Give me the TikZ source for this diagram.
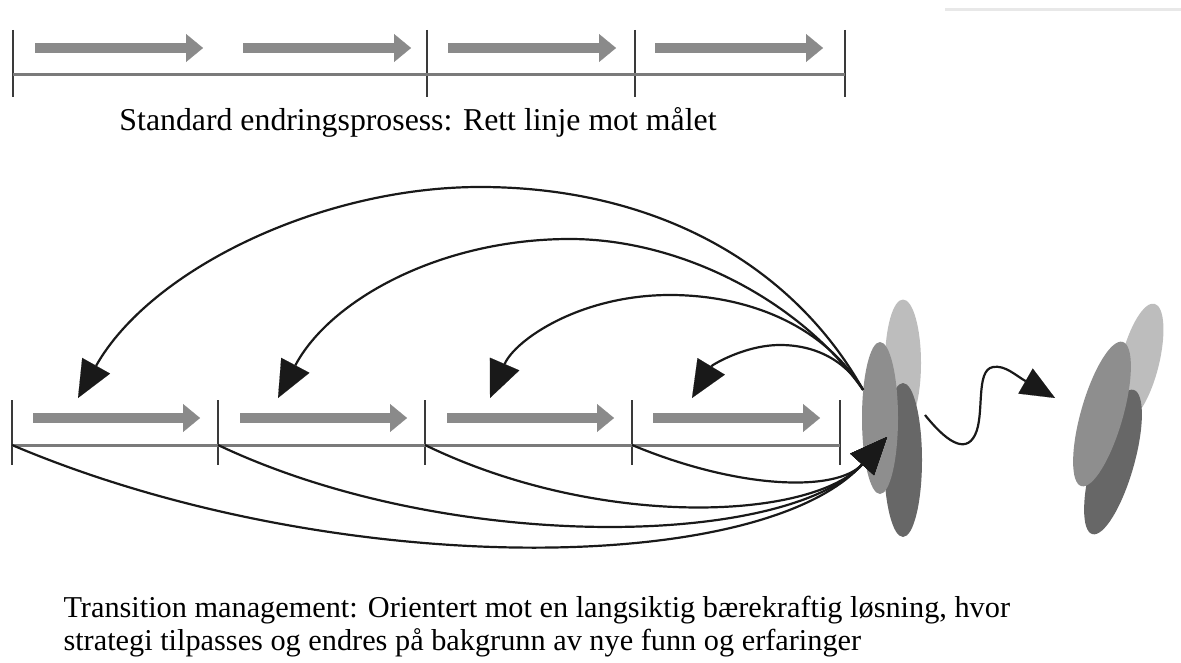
\documentclass[tikz,border=0pt]{standalone}
\usepackage{fontspec}
\setmainfont{Liberation Serif}
\usetikzlibrary{arrows.meta,shapes.geometric}

\definecolor{lightgrey}{HTML}{BDBDBD}
\definecolor{midgrey}{HTML}{8E8E8E}
\definecolor{darkgrey}{HTML}{676767}
\definecolor{arrowgrey}{HTML}{8A8A8A}
\definecolor{basegrey}{HTML}{7A7A7A}
\definecolor{tickgrey}{HTML}{3A3A3A}
\definecolor{faintgrey}{HTML}{E8E8E8}

\begin{document}
\begin{tikzpicture}[
    x=1pt, y=-1pt,
    every node/.style={font=\fontsize{30.3}{33}\selectfont},
    blockarrow/.style={draw=arrowgrey, line width=10pt, -{Triangle[length=17pt,width=28pt,line width=0.1pt]}},
    timeline/.style={draw=basegrey, line width=3pt},
    stepmark/.style={draw=tickgrey, line width=1.5pt},
    feedback/.style={draw=black!90, line width=2.2pt, -{Triangle[length=37pt,width=32pt,line width=0.1pt]}},
    wave/.style={draw=black!90, line width=2.2pt, -{Triangle[length=34pt,width=29pt,line width=0.1pt]}},
    blob/.style={ellipse, draw=none, inner sep=0pt}
]
\useasboundingbox (0,0) rectangle (1181,663);

% faint rule in the corner
\draw[draw=faintgrey, line width=3pt] (945,10) -- (1181,10);

% Standard process: straight line
\foreach \x in {13,427,635,845}
    \draw[stepmark] (\x,30) -- (\x,97);
\draw[timeline] (13,75) -- (845,75);
\foreach \x in {35,243,448,655}
    \draw[blockarrow] (\x,48) -- ++(168,0);
\node[font=\fontsize{31.8}{35}\selectfont] (stdtext) at (418,122) {Standard endringsprosess: Rett linje mot målet};

% Transition management: timeline
\foreach \x/\n in {12/0,218/1,425/2,632/3,840/4} {
    \coordinate (m\n) at (\x,445);
    \draw[stepmark] (\x,400) -- (\x,465);
}
\draw[timeline] (m0) -- (m4);
\foreach \x in {33,240,447,653}
    \draw[blockarrow] (\x,418) -- ++(167,0);

% Current state (left cluster)
\node[blob, fill=lightgrey, minimum width=36pt, minimum height=127pt] (now1) at (903,363) {};
\node[blob, fill=darkgrey, minimum width=38pt, minimum height=154pt] (now3) at (903,460) {};
\node[blob, fill=midgrey, minimum width=36pt, minimum height=152pt] (now2) at (880,418) {};

% Sustainable goal (right cluster)
\node[blob, fill=lightgrey, minimum width=38pt, minimum height=120pt, rotate=-14] (goal1) at (1140,362) {};
\node[blob, fill=darkgrey, minimum width=42pt, minimum height=150pt, rotate=-16] (goal3) at (1113,462) {};
\node[blob, fill=midgrey, minimum width=42pt, minimum height=150pt, rotate=-16] (goal2) at (1102,414) {};

% Feedback loops back to the steps
\coordinate (fb1) at (78,398);
\coordinate (fb2) at (278,398);
\coordinate (fb3) at (490,398);
\coordinate (fb4) at (692,398);
\draw[feedback] (now2.121) .. controls (790,260) and (650,187) .. (480,187)
    .. controls (320,187) and (150,270) .. (fb1);
\draw[feedback] (now2.121) .. controls (800,300) and (680,239) .. (570,239)
    .. controls (440,239) and (330,300) .. (fb2);
\draw[feedback] (now2.121) .. controls (820,320) and (740,295) .. (670,295)
    .. controls (580,295) and (515,340) .. (fb3);
\draw[feedback] (now2.121) .. controls (845,360) and (815,345) .. (780,345)
    .. controls (745,345) and (712,365) .. (fb4);

% Steps feeding into the current state
\coordinate (sink) at (887,437);
\draw[feedback] (m0) .. controls (330,580) and (760,577) .. (sink);
\draw[feedback] (m1) .. controls (450,555) and (787,547) .. (sink);
\draw[feedback] (m2) .. controls (600,530) and (812,520) .. (sink);
\draw[feedback] (m3) .. controls (740,490) and (837,492) .. (sink);

% Transition towards the goal
\coordinate (wavestart) at (925,415);
\coordinate (waveend) at (1055,398);
\draw[wave] (wavestart) .. controls (945,440) and (965,455) .. (975,435)
    .. controls (985,415) and (975,370) .. (993,367)
    .. controls (1005,365) and (1015,375) .. (waveend);

\node[anchor=west, align=left] (tmtext) at (60,627) {Transition management: Orientert mot en langsiktig bærekraftig løsning, hvor\\strategi tilpasses og endres på bakgrunn av nye funn og erfaringer};

\end{tikzpicture}
\end{document}
